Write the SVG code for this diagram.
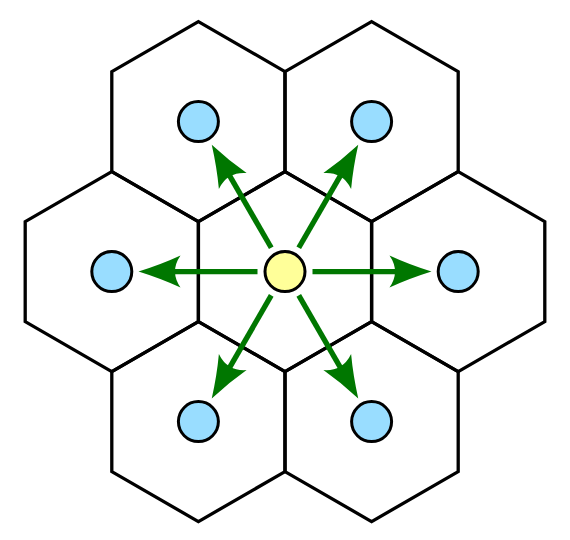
<svg xmlns="http://www.w3.org/2000/svg" xmlns:xlink="http://www.w3.org/1999/xlink" width="570" height="540" viewBox="0 0 570 540">
<style>
.hex{fill:none;stroke:#000;stroke-width:3.3;stroke-linejoin:miter}
.nb{fill:#99DDFF;stroke:#000;stroke-width:3}
.ctr{fill:#FFFF99;stroke:#000;stroke-width:3}
.shaft{stroke:#007700;stroke-width:5.3;fill:none}
.head{fill:#007700;stroke:none}
</style>
<defs>
<polygon id="hexshape" points="0,-100 86.6,-50 86.6,50 0,100 -86.6,50 -86.6,-50"/>
<g id="arrow">
<line class="shaft" x1="27.5" y1="0" x2="112" y2="0"/>
<path class="head" d="M146.5,0 Q124,-7 104.5,-16 Q110,-8 110,0 Q110,8 104.5,16 Q124,7 146.5,0 Z"/>
</g>
</defs>
<rect width="570" height="540" fill="#fff"/>
<g id="hex-center"><use xlink:href="#hexshape" class="hex" x="285" y="271.6"/></g>
<g id="hex-nw"><use xlink:href="#hexshape" class="hex" x="198.4" y="121.6"/><circle class="nb" cx="198.4" cy="121.6" r="20"/></g>
<g id="hex-ne"><use xlink:href="#hexshape" class="hex" x="371.6" y="121.6"/><circle class="nb" cx="371.6" cy="121.6" r="20"/></g>
<g id="hex-w"><use xlink:href="#hexshape" class="hex" x="111.8" y="271.6"/><circle class="nb" cx="111.8" cy="271.6" r="20"/></g>
<g id="hex-e"><use xlink:href="#hexshape" class="hex" x="458.2" y="271.6"/><circle class="nb" cx="458.2" cy="271.6" r="20"/></g>
<g id="hex-sw"><use xlink:href="#hexshape" class="hex" x="198.4" y="421.6"/><circle class="nb" cx="198.4" cy="421.6" r="20"/></g>
<g id="hex-se"><use xlink:href="#hexshape" class="hex" x="371.6" y="421.6"/><circle class="nb" cx="371.6" cy="421.6" r="20"/></g>
<g id="center-node"><circle class="ctr" cx="285" cy="271.6" r="20"/></g>
<g id="connectors">
<use xlink:href="#arrow" transform="translate(285 271.6) rotate(0)"/>
<use xlink:href="#arrow" transform="translate(285 271.6) rotate(60)"/>
<use xlink:href="#arrow" transform="translate(285 271.6) rotate(120)"/>
<use xlink:href="#arrow" transform="translate(285 271.6) rotate(180)"/>
<use xlink:href="#arrow" transform="translate(285 271.6) rotate(240)"/>
<use xlink:href="#arrow" transform="translate(285 271.6) rotate(300)"/>
</g>
</svg>
